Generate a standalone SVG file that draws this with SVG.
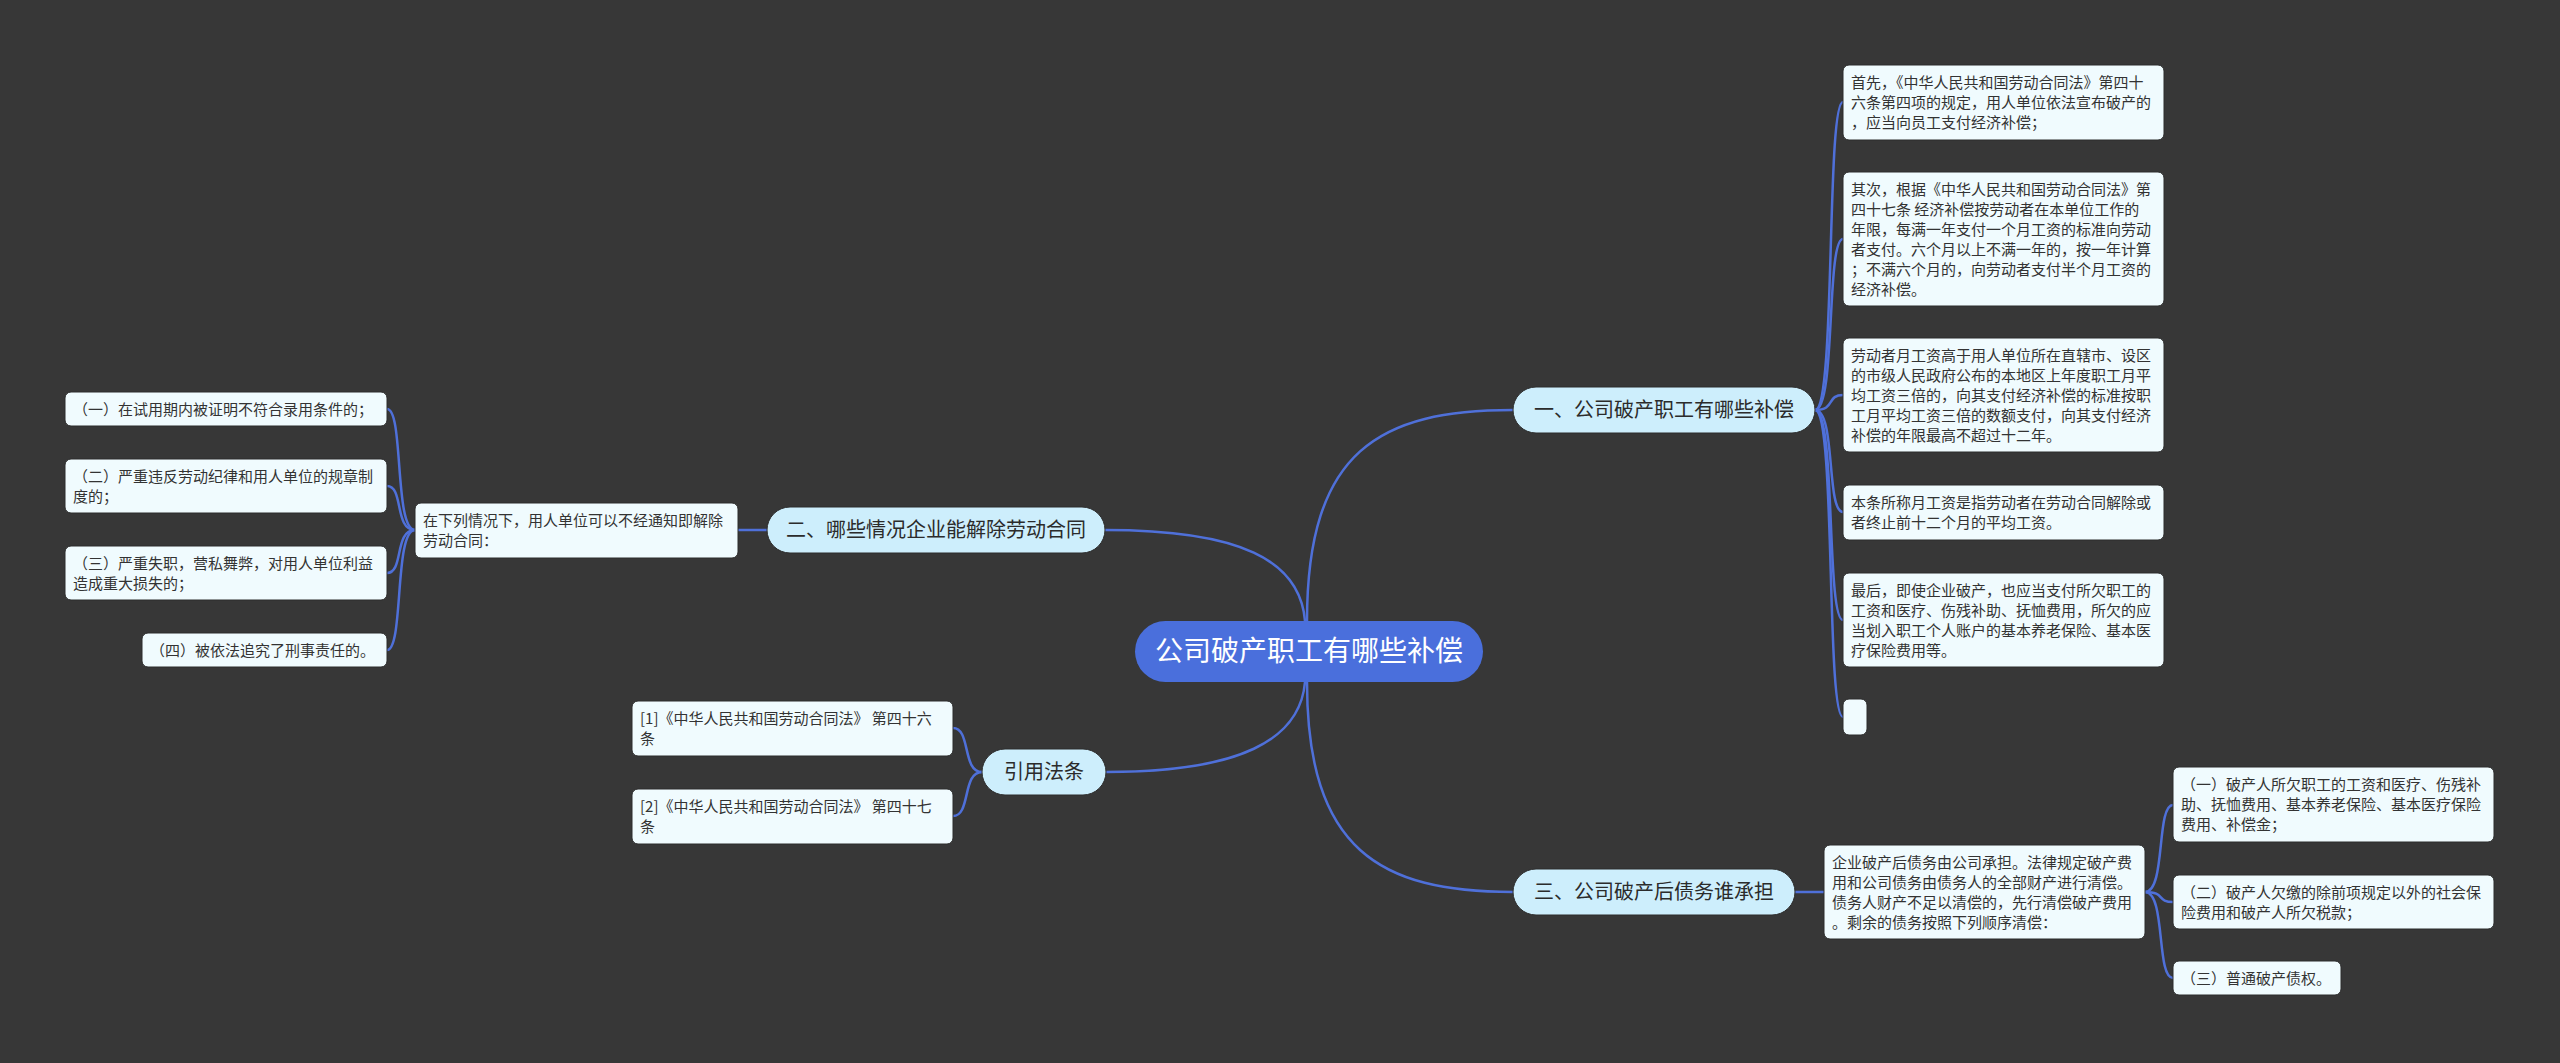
<svg xmlns="http://www.w3.org/2000/svg" width="2560" height="1063" viewBox="0 0 2560 1063">
<style>
.bg{fill:#373737}
.ln{fill:none;stroke:#4f70d9;stroke-width:2.5}
.leaf{fill:#f0fbfe;stroke:#2c2c2c;stroke-width:1}
.br{fill:#cdeefc;stroke:#2c2c2c;stroke-width:1}
.rt{fill:#4a6fdc}
.t{font-family:"Noto Sans CJK SC","Noto Sans",sans-serif;font-size:15px;fill:#333333}
.bt{font-family:"Noto Sans CJK SC","Noto Sans",sans-serif;font-size:20px;fill:#2b2b2b;text-anchor:middle}
.rtt{font-family:"Noto Sans CJK SC","Noto Sans",sans-serif;font-size:28px;fill:#ffffff;text-anchor:middle}
</style>
<rect class="bg" x="0" y="0" width="2560" height="1063"/>
<g id="connectors">
<path class="ln" d="M1307,621 C1307,450 1380,410 1513,410"/>
<path class="ln" d="M1305,621 C1300,560 1240,530 1105,530"/>
<path class="ln" d="M1305,682 C1300,740 1240,772 1106,772"/>
<path class="ln" d="M1307,682 C1307,850 1380,892 1513,892"/>
<path class="ln" d="M1815,410 C1836,410 1826,102 1843,102"/>
<path class="ln" d="M1815,410 C1836,410 1826,239 1843,239"/>
<path class="ln" d="M1815,410 C1836,410 1826,395 1843,395"/>
<path class="ln" d="M1815,410 C1836,410 1826,512 1843,512"/>
<path class="ln" d="M1815,410 C1836,410 1826,620 1843,620"/>
<path class="ln" d="M1815,410 C1836,410 1826,717 1843,717"/>
<path class="ln" d="M767,530 H738"/>
<path class="ln" d="M415,530 C394,530 404,409 387,409"/>
<path class="ln" d="M415,530 C394,530 404,486 387,486"/>
<path class="ln" d="M415,530 C394,530 404,573 387,573"/>
<path class="ln" d="M415,530 C394,530 404,650 387,650"/>
<path class="ln" d="M982,772 C962,772 971,728 953,728"/>
<path class="ln" d="M982,772 C962,772 971,816 953,816"/>
<path class="ln" d="M1795,892 H1824"/>
<path class="ln" d="M2145,892 C2166,892 2156,805 2173,805"/>
<path class="ln" d="M2145,892 C2166,892 2156,902 2173,902"/>
<path class="ln" d="M2145,892 C2166,892 2156,978 2173,978"/>
</g>
<g id="root">
<rect class="rt" x="1135" y="621" width="348" height="61" rx="30.5"/>
<text class="rtt" x="1309" y="661">公司破产职工有哪些补偿</text>
</g>
<g id="b1">
<rect class="br" x="1513" y="387" width="302" height="46" rx="23"/>
<text class="bt" x="1664" y="417">一、公司破产职工有哪些补偿</text>
</g>
<g id="b1c1">
<rect class="leaf" x="1843" y="65" width="321" height="75" rx="6"/>
<text class="t"><tspan x="1851" y="88">首先，《中华人民共和国劳动合同法》第四十</tspan><tspan x="1851" y="108">六条第四项的规定，用人单位依法宣布破产的</tspan><tspan x="1851" y="128">，应当向员工支付经济补偿；</tspan></text>
</g>
<g id="b1c2">
<rect class="leaf" x="1843" y="172" width="321" height="134" rx="6"/>
<text class="t"><tspan x="1851" y="195">其次，根据《中华人民共和国劳动合同法》第</tspan><tspan x="1851" y="215">四十七条 经济补偿按劳动者在本单位工作的</tspan><tspan x="1851" y="235">年限，每满一年支付一个月工资的标准向劳动</tspan><tspan x="1851" y="255">者支付。六个月以上不满一年的，按一年计算</tspan><tspan x="1851" y="275">；不满六个月的，向劳动者支付半个月工资的</tspan><tspan x="1851" y="295">经济补偿。</tspan></text>
</g>
<g id="b1c3">
<rect class="leaf" x="1843" y="338" width="321" height="114" rx="6"/>
<text class="t"><tspan x="1851" y="361">劳动者月工资高于用人单位所在直辖市、设区</tspan><tspan x="1851" y="381">的市级人民政府公布的本地区上年度职工月平</tspan><tspan x="1851" y="401">均工资三倍的，向其支付经济补偿的标准按职</tspan><tspan x="1851" y="421">工月平均工资三倍的数额支付，向其支付经济</tspan><tspan x="1851" y="441">补偿的年限最高不超过十二年。</tspan></text>
</g>
<g id="b1c4">
<rect class="leaf" x="1843" y="485" width="321" height="55" rx="6"/>
<text class="t"><tspan x="1851" y="508">本条所称月工资是指劳动者在劳动合同解除或</tspan><tspan x="1851" y="528">者终止前十二个月的平均工资。</tspan></text>
</g>
<g id="b1c5">
<rect class="leaf" x="1843" y="573" width="321" height="94" rx="6"/>
<text class="t"><tspan x="1851" y="596">最后，即使企业破产，也应当支付所欠职工的</tspan><tspan x="1851" y="616">工资和医疗、伤残补助、抚恤费用，所欠的应</tspan><tspan x="1851" y="636">当划入职工个人账户的基本养老保险、基本医</tspan><tspan x="1851" y="656">疗保险费用等。</tspan></text>
</g>
<g id="b1c6">
<rect class="leaf" x="1843" y="699" width="24" height="36" rx="6"/>
</g>
<g id="b2">
<rect class="br" x="767" y="507" width="338" height="46" rx="23"/>
<text class="bt" x="936" y="537">二、哪些情况企业能解除劳动合同</text>
</g>
<g id="b2c">
<rect class="leaf" x="415" y="503" width="323" height="55" rx="6"/>
<text class="t"><tspan x="423" y="526">在下列情况下，用人单位可以不经通知即解除</tspan><tspan x="423" y="546">劳动合同：</tspan></text>
</g>
<g id="b2c1">
<rect class="leaf" x="65" y="392" width="322" height="34" rx="6"/>
<text class="t"><tspan x="73" y="415">（一）在试用期内被证明不符合录用条件的；</tspan></text>
</g>
<g id="b2c2">
<rect class="leaf" x="65" y="459" width="322" height="54" rx="6"/>
<text class="t"><tspan x="73" y="482">（二）严重违反劳动纪律和用人单位的规章制</tspan><tspan x="73" y="502">度的；</tspan></text>
</g>
<g id="b2c3">
<rect class="leaf" x="65" y="546" width="322" height="54" rx="6"/>
<text class="t"><tspan x="73" y="569">（三）严重失职，营私舞弊，对用人单位利益</tspan><tspan x="73" y="589">造成重大损失的；</tspan></text>
</g>
<g id="b2c4">
<rect class="leaf" x="142" y="633" width="245" height="34" rx="6"/>
<text class="t"><tspan x="150" y="656">（四）被依法追究了刑事责任的。</tspan></text>
</g>
<g id="b3">
<rect class="br" x="982" y="749" width="124" height="46" rx="23"/>
<text class="bt" x="1044" y="779">引用法条</text>
</g>
<g id="b3c1">
<rect class="leaf" x="632" y="701" width="321" height="55" rx="6"/>
<text class="t"><tspan x="640" y="724">[1]《中华人民共和国劳动合同法》 第四十六</tspan><tspan x="640" y="744">条</tspan></text>
</g>
<g id="b3c2">
<rect class="leaf" x="632" y="789" width="321" height="55" rx="6"/>
<text class="t"><tspan x="640" y="812">[2]《中华人民共和国劳动合同法》 第四十七</tspan><tspan x="640" y="832">条</tspan></text>
</g>
<g id="b4">
<rect class="br" x="1513" y="869" width="282" height="46" rx="23"/>
<text class="bt" x="1654" y="899">三、公司破产后债务谁承担</text>
</g>
<g id="b4c">
<rect class="leaf" x="1824" y="845" width="321" height="94" rx="6"/>
<text class="t"><tspan x="1832" y="868">企业破产后债务由公司承担。法律规定破产费</tspan><tspan x="1832" y="888">用和公司债务由债务人的全部财产进行清偿。</tspan><tspan x="1832" y="908">债务人财产不足以清偿的，先行清偿破产费用</tspan><tspan x="1832" y="928">。剩余的债务按照下列顺序清偿：</tspan></text>
</g>
<g id="b4c1">
<rect class="leaf" x="2173" y="767" width="321" height="75" rx="6"/>
<text class="t"><tspan x="2181" y="790">（一）破产人所欠职工的工资和医疗、伤残补</tspan><tspan x="2181" y="810">助、抚恤费用、基本养老保险、基本医疗保险</tspan><tspan x="2181" y="830">费用、补偿金；</tspan></text>
</g>
<g id="b4c2">
<rect class="leaf" x="2173" y="875" width="321" height="54" rx="6"/>
<text class="t"><tspan x="2181" y="898">（二）破产人欠缴的除前项规定以外的社会保</tspan><tspan x="2181" y="918">险费用和破产人所欠税款；</tspan></text>
</g>
<g id="b4c3">
<rect class="leaf" x="2173" y="961" width="168" height="34" rx="6"/>
<text class="t"><tspan x="2181" y="984">（三）普通破产债权。</tspan></text>
</g>
</svg>
